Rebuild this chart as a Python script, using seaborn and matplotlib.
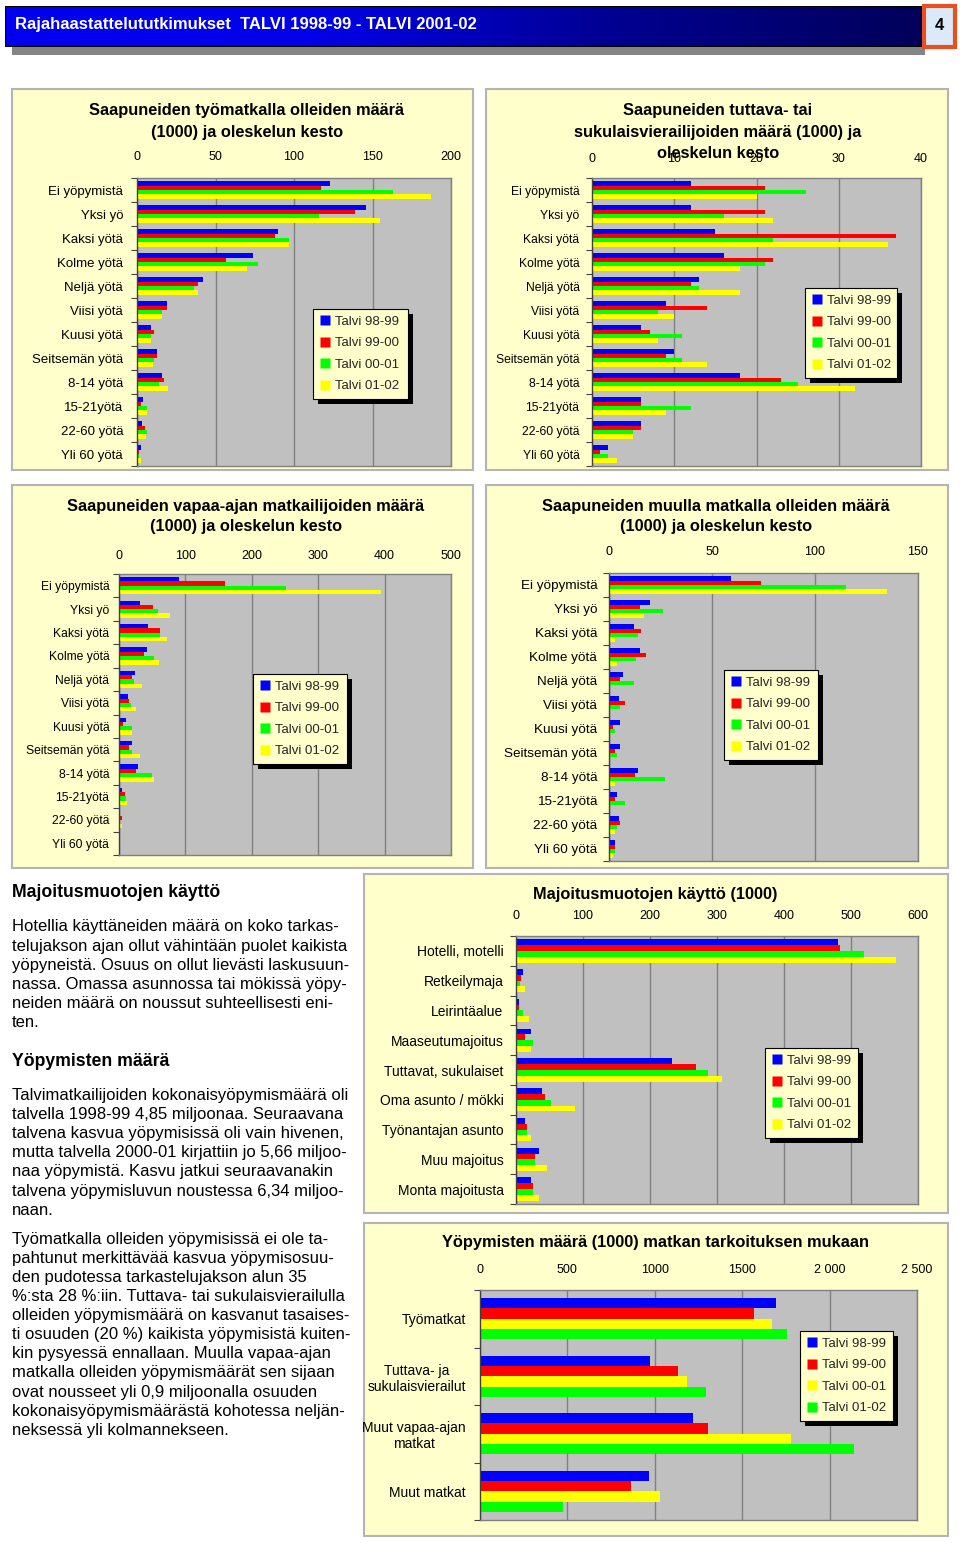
import numpy as np
import pandas as pd
import matplotlib
matplotlib.use('Agg')
import matplotlib.pyplot as plt
import seaborn as sns
from matplotlib.patches import Rectangle
from matplotlib.lines import Line2D
from matplotlib.colors import LinearSegmentedColormap

# ---------------- data ----------------
seasons = ['Talvi 98-99', 'Talvi 99-00', 'Talvi 00-01', 'Talvi 01-02']

stay_cats = ['Ei yöpymistä', 'Yksi yö', 'Kaksi yötä', 'Kolme yötä', 'Neljä yötä',
             'Viisi yötä', 'Kuusi yötä', 'Seitsemän yötä', '8-14 yötä', '15-21yötä',
             '22-60 yötä', 'Yli 60 yötä']

work_9899 = [123, 146, 90, 74, 42, 19, 9, 13, 16, 3.6, 3.4, 2.5]
work_9900 = [117, 139, 88, 57, 39, 19, 11, 13, 17, 2.5, 5.3, 1.5]
work_0001 = [163, 116, 97, 77, 36.5, 16, 9, 11, 14, 6.4, 6.4, 1.5]
work_0102 = [187, 155, 97, 70, 39, 16, 9, 10, 20, 6.4, 5.5, 2.5]

visit_9899 = [12, 12, 15, 16, 13, 9, 6, 10, 18, 6, 6, 2]
visit_9900 = [21, 21, 37, 22, 12, 14, 7, 9, 23, 6, 6, 1]
visit_0001 = [26, 16, 22, 21, 13, 8, 11, 11, 25, 12, 5, 2]
visit_0102 = [20, 22, 36, 18, 18, 10, 8, 14, 32, 9, 5, 3]

leis_9899 = [91, 31, 44, 42, 24, 13, 11, 20, 29, 4, 1, 0.5]
leis_9900 = [159, 51, 62, 38, 20, 15, 6, 15, 26, 9, 4, 0.5]
leis_0001 = [252, 58, 62, 53, 22, 18, 20, 20, 49, 11, 1, 0.5]
leis_0102 = [394, 77, 73, 60, 35, 26, 20, 31, 53, 12, 4, 0.5]

other_9899 = [59, 20, 12, 15, 7, 5, 5.5, 5.5, 14, 4, 5, 2.8]
other_9900 = [74, 15, 15.5, 18, 5.5, 7.6, 2, 2.8, 12.6, 2.8, 5.5, 2.8]
other_0001 = [115, 26, 14, 13, 12, 5.5, 2.8, 4, 27, 7.6, 4, 2.8]
other_0102 = [135, 17, 3, 4, 0, 0, 0, 0, 2.8, 0, 2.8, 2]

acc_cats = ['Hotelli, motelli', 'Retkeilymaja', 'Leirintäalue', 'Maaseutumajoitus',
            'Tuttavat, sukulaiset', 'Oma asunto / mökki', 'Työnantajan asunto',
            'Muu majoitus', 'Monta majoitusta']
acc_9899 = [481, 11, 4, 22, 233, 39, 13.5, 34, 22]
acc_9900 = [484, 8, 4, 13.5, 268, 44, 17, 29, 26]
acc_0001 = [520, 6, 11, 26, 286, 52, 17, 29, 26]
acc_0102 = [567, 13.5, 20, 22, 308, 88, 22, 47, 35]

purp_cats = ['Työmatkat', 'Tuttava- ja\nsukulaisvierailut', 'Muut vapaa-ajan\nmatkat', 'Muut matkat']
nights_9899 = [1695, 973, 1216, 964]
nights_9900 = [1566, 1132, 1302, 863]
nights_0001 = [1669, 1183, 1780, 1031]
nights_0102 = [1755, 1293, 2139, 477]

ticks_work = [0, 50, 100, 150, 200]
ticks_visit = [0, 10, 20, 30, 40]
ticks_leis = [0, 100, 200, 300, 400, 500]
ticks_other = [0, 50, 100, 150]
ticks_acc = [0, 100, 200, 300, 400, 500, 600]
ticks_nights = [0, 500, 1000, 1500, 2000, 2500]
ticklabels_nights = ['0', '500', '1000', '1500', '2 000', '2 500']

header_text = 'Rajahaastattelututkimukset  TALVI 1998-99 - TALVI 2001-02'
page_no = '4'

text_blocks = [
    ('h', ['Majoitusmuotojen käyttö']),
    ('p', ['Hotellia käyttäneiden määrä on koko tarkas-',
           'telujakson ajan ollut vähintään puolet kaikista',
           'yöpyneistä. Osuus on ollut lievästi laskusuun-',
           'nassa. Omassa asunnossa tai mökissä yöpy-',
           'neiden määrä on noussut suhteellisesti eni-',
           'ten.']),
    ('h', ['Yöpymisten määrä']),
    ('p', ['Talvimatkailijoiden kokonaisyöpymismäärä oli',
           'talvella 1998-99 4,85 miljoonaa. Seuraavana',
           'talvena kasvua yöpymisissä oli vain hivenen,',
           'mutta talvella 2000-01 kirjattiin jo 5,66 miljoo-',
           'naa yöpymistä. Kasvu jatkui seuraavanakin',
           'talvena yöpymisluvun noustessa 6,34 miljoo-',
           'naan.']),
    ('p', ['Työmatkalla olleiden yöpymisissä ei ole ta-',
           'pahtunut merkittävää kasvua yöpymisosuu-',
           'den pudotessa tarkastelujakson alun 35',
           '%:sta 28 %:iin. Tuttava- tai sukulaisvierailulla',
           'olleiden yöpymismäärä on kasvanut tasaises-',
           'ti osuuden (20 %) kaikista yöpymisistä kuiten-',
           'kin pysyessä ennallaan. Muulla vapaa-ajan',
           'matkalla olleiden yöpymismäärät sen sijaan',
           'ovat nousseet yli 0,9 miljoonalla osuuden',
           'kokonaisyöpymismäärästä kohotessa neljän-',
           'neksessä yli kolmannekseen.']),
]

# ---------------- style ----------------
sns.set_theme(style='white')
plt.rcParams['font.family'] = ['Liberation Sans', 'DejaVu Sans']

W, H = 960, 1544
fig = plt.figure(figsize=(W / 100, H / 100), dpi=100)
fig.patch.set_facecolor('white')

pal_std = ['#0000FF', '#FF0000', '#00FF00', '#FFFF00']
pal_n = ['#0000FF', '#FF0000', '#FFFF00', '#00FF00']


def fx(x):
    return x / W


def fy(y):
    return 1 - y / H


def add_rect(x0, y0, x1, y1, **kw):
    r = Rectangle((fx(x0), fy(y1)), (x1 - x0) / W, (y1 - y0) / H,
                  transform=fig.transFigure, **kw)
    fig.add_artist(r)
    return r


legends = []


def bar_panel(panel, plot, cats, series, pal, ticks, tlabels, title_lines, title_cx,
              title_ys, tick_y, leg_box, width=0.73, cat_fs=9.5, ypad=10):
    add_rect(*panel, facecolor='#FFFFCC', edgecolor='#B4B4B4', lw=1.5, zorder=-10)
    x0, y0, x1, y1 = plot
    ax = fig.add_axes([fx(x0), fy(y1), (x1 - x0) / W, (y1 - y0) / H])
    rows = []
    for s, vals in zip(seasons, series):
        for c, v in zip(cats, vals):
            rows.append((c, s, v))
    df = pd.DataFrame(rows, columns=['cat', 'season', 'val'])
    sns.barplot(data=df, y='cat', x='val', hue='season', order=cats, hue_order=seasons,
                palette=pal, width=width, gap=0, orient='h', legend=False, ax=ax,
                saturation=1, linewidth=0, errorbar=None)
    ax.set_facecolor('#C0C0C0')
    ax.set_xlim(ticks[0], ticks[-1])
    ax.set_xticks(ticks, tlabels)
    ax.xaxis.tick_top()
    ax.set_xlabel('')
    ax.set_ylabel('')
    ax.grid(axis='x', color='#808080', lw=1)
    ax.grid(axis='y', visible=False)
    ax.set_axisbelow(True)
    for k, sp in ax.spines.items():
        sp.set_color('#808080')
        sp.set_linewidth(1)
    ax.spines['left'].set_color('#404040')
    pad_pt = (y0 - tick_y - 6) / 1.389
    ax.tick_params(axis='x', which='major', length=0, pad=pad_pt, labelsize=9, colors='black')
    ax.tick_params(axis='y', which='major', length=0, pad=ypad, labelsize=cat_fs, colors='black')
    ax.set_yticks(np.arange(len(cats) + 1) - 0.5, minor=True)
    ax.tick_params(axis='y', which='minor', length=4, width=0.8, color='#404040', direction='out', left=True)
    for lbl in ax.get_yticklabels():
        lbl.set_multialignment('center')
    for line, y in zip(title_lines, title_ys):
        fig.text(fx(title_cx), fy(y), line, ha='center', va='center', fontsize=11.8,
                 fontweight='bold', color='black')
    handles = [Line2D([0], [0], marker='s', ls='', mfc=c, mec='none', ms=6.5, label=s)
               for s, c in zip(seasons, pal)]
    lx0, ly0, lx1, ly1 = leg_box
    leg = ax.legend(handles=handles, loc='upper left',
                    bbox_to_anchor=(fx(lx0), fy(ly1), (lx1 - lx0) / W, (ly1 - ly0) / H),
                    bbox_transform=fig.transFigure, mode='expand', borderaxespad=0,
                    fancybox=False, edgecolor='black', facecolor='#FFFFCC', framealpha=1,
                    handlelength=0.8, handletextpad=0.35, labelspacing=0.7, borderpad=0.5,
                    fontsize=9.5)
    leg.get_frame().set_linewidth(0.8)
    legends.append((ax, leg))
    return ax


# ---------------- header ----------------
add_rect(12, 13, 925, 55, facecolor='#858585', edgecolor='none', zorder=-5)
hax = fig.add_axes([fx(5), fy(47), (922 - 5) / W, (47 - 6) / H])
grad = np.linspace(0, 1, 256).reshape(1, -1)
cmap = LinearSegmentedColormap.from_list('hdr', ['#0000F0', '#0000E8', '#000090', '#00005A'])
hax.imshow(grad, aspect='auto', cmap=cmap, extent=[0, 1, 0, 1])
hax.set_axis_off()
hax.add_patch(Rectangle((0, 0), 1, 1, transform=hax.transAxes, fill=False, edgecolor='black', lw=1.5))
fig.text(fx(15), fy(25), header_text, ha='left', va='center', color='white', fontsize=12,
         fontweight='bold', family=['Liberation Sans Narrow', 'Liberation Sans', 'DejaVu Sans'])
add_rect(924, 6, 955, 47, facecolor='#DCE9F8', edgecolor='#E8501E', lw=3, zorder=2)
fig.text(fx(939.5), fy(26), page_no, ha='center', va='center', fontsize=12, fontweight='bold',
         color='black', zorder=3)

# ---------------- panels ----------------
bar_panel((12, 89, 473, 470), (137, 178, 451, 466), stay_cats,
          [work_9899, work_9900, work_0001, work_0102], pal_std, ticks_work,
          [str(t) for t in ticks_work],
          ['Saapuneiden työmatkalla olleiden määrä', '(1000) ja oleskelun kesto'],
          247, [111, 132], 157, (313, 309, 408, 398), ypad=10)

bar_panel((486, 89, 948, 470), (592, 178, 921, 466), stay_cats,
          [visit_9899, visit_9900, visit_0001, visit_0102], pal_std, ticks_visit,
          [str(t) for t in ticks_visit],
          ['Saapuneiden tuttava- tai', 'sukulaisvierailijoiden määrä (1000) ja', 'oleskelun kesto'],
          718, [111, 132, 154], 159, (805, 288, 897, 376), cat_fs=8.7, ypad=9)

bar_panel((12, 485, 473, 868), (119, 574, 451, 855), stay_cats,
          [leis_9899, leis_9900, leis_0001, leis_0102], pal_std, ticks_leis,
          [str(t) for t in ticks_leis],
          ['Saapuneiden vapaa-ajan matkailijoiden määrä', '(1000) ja oleskelun kesto'],
          246, [506, 527], 556, (253, 674, 347, 761), cat_fs=8.7, ypad=7)

bar_panel((486, 485, 948, 868), (609, 573, 918, 861), stay_cats,
          [other_9899, other_9900, other_0001, other_0102], pal_std, ticks_other,
          [str(t) for t in ticks_other],
          ['Saapuneiden muulla matkalla olleiden määrä', '(1000) ja oleskelun kesto'],
          716, [506, 527], 552, (724, 670, 818, 756), cat_fs=9.7, ypad=8.5)

bar_panel((364, 874, 948, 1213), (516, 936, 918, 1204), acc_cats,
          [acc_9899, acc_9900, acc_0001, acc_0102], pal_std, ticks_acc,
          [str(t) for t in ticks_acc],
          ['Majoitusmuotojen käyttö (1000)'],
          655, [895], 916, (765, 1048, 858, 1137), width=0.78, cat_fs=10, ypad=9)

bar_panel((364, 1223, 948, 1536), (480, 1290, 917, 1520), purp_cats,
          [nights_9899, nights_9900, nights_0001, nights_0102], pal_n, ticks_nights,
          ticklabels_nights,
          ['Yöpymisten määrä (1000) matkan tarkoituksen mukaan'],
          656, [1243], 1270, (800, 1331, 893, 1420), width=0.72, cat_fs=10, ypad=10)

# ---------------- left text ----------------
y = 893
for i, (kind, lines) in enumerate(text_blocks):
    if kind == 'h':
        fig.text(fx(12), fy(y), lines[0], ha='left', va='center', fontsize=12.7,
                 fontweight='bold', color='black')
        y += 34
    else:
        for ln in lines:
            fig.text(fx(12), fy(y), ln, ha='left', va='center', fontsize=12, color='black')
            y += 19.1
        nxt = text_blocks[i + 1][0] if i + 1 < len(text_blocks) else None
        y += 20 if nxt == 'h' else 10

# ---------------- legend shadows ----------------
fig.canvas.draw()
inv = fig.transFigure.inverted()
for ax, leg in legends:
    bb = leg.get_window_extent()
    (a0, b0), (a1, b1) = inv.transform([[bb.x0 + 5, bb.y0 - 5], [bb.x1 + 5, bb.y1 - 5]])
    sh = Rectangle((a0, b0), a1 - a0, b1 - b0, transform=fig.transFigure, facecolor='black',
                   edgecolor='none', zorder=4.5, clip_on=False)
    ax.add_patch(sh)

fig.savefig('out.png', dpi=100)
